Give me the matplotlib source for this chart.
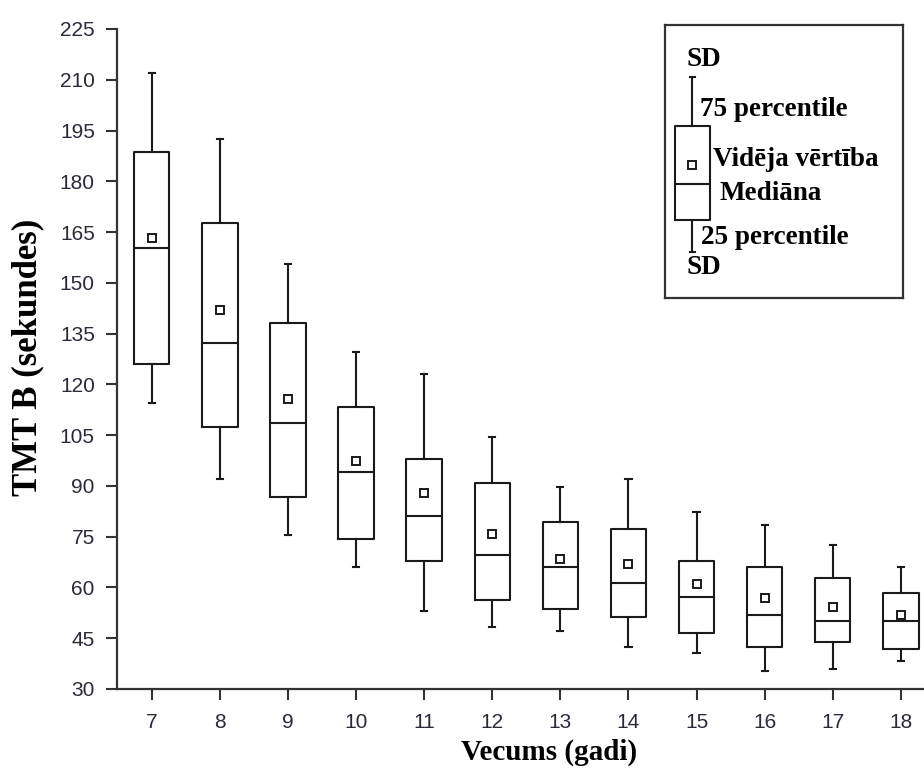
import numpy as np
import matplotlib.pyplot as plt

# age groups (years)
ages = [7, 8, 9, 10, 11, 12, 13, 14, 15, 16, 17, 18]

# TMT B times (seconds)
sd_high = [212.1, 192.6, 155.5, 129.5, 123.0, 104.5, 89.7, 92.1, 82.2, 78.5, 72.5, 66.0]
q75 = [188.6, 167.8, 138.2, 113.4, 98.1, 91.0, 79.4, 77.4, 67.8, 66.0, 62.7, 58.3]
mean = [163.2, 142.0, 115.6, 97.5, 87.8, 75.9, 68.3, 67.0, 61.1, 56.8, 54.1, 52.0]
median = [160.2, 132.3, 108.6, 94.0, 81.0, 69.7, 66.0, 61.3, 57.3, 52.0, 50.0, 50.2]
q25 = [125.9, 107.3, 86.7, 74.4, 67.8, 56.2, 53.6, 51.4, 46.6, 42.4, 43.8, 41.9]
sd_low = [114.6, 92.1, 75.5, 66.0, 53.1, 48.3, 47.1, 42.4, 40.7, 35.3, 35.9, 38.3]

yticks = list(range(30, 226, 15))

# key box (legend panel, in pixel units of the panel)
key_stats = dict(whishi=51.7, q3=101, mean=140, med=159, q1=195, whislo=227.3)
key_labels = ["SD", "75 percentile", "Vidēja vērtība", "Mediāna", "25 percentile", "SD"]
key_label_pos = [(22, 35), (35, 84), (48, 135), (55, 168), (36, 213), (22, 243)]

serif = ['Liberation Serif', 'DejaVu Serif']
sans = ['Liberation Sans', 'DejaVu Sans']

fig = plt.figure(figsize=(9.24, 7.82), dpi=100)
ax = fig.add_axes([117 / 924, 1 - 689 / 782, 1 - 117 / 924, (689 - 29) / 782])

stats = []
for i in range(len(ages)):
    stats.append(dict(whislo=sd_low[i], q1=q25[i], med=median[i], q3=q75[i],
                      whishi=sd_high[i], mean=mean[i], fliers=[]))

lw = 1.5
box_props = dict(color='#1a1a1a', linewidth=lw)
mean_props = dict(marker='s', markersize=6, markerfacecolor='white',
                  markeredgecolor='#1a1a1a', markeredgewidth=1.4)
ax.bxp(stats, positions=ages, widths=0.52, showmeans=True, showfliers=False,
       boxprops=box_props, whiskerprops=box_props,
       capprops=dict(color='#1a1a1a', linewidth=lw), capwidths=0.09,
       medianprops=dict(color='#1a1a1a', linewidth=lw), meanprops=mean_props)

ax.set_xlim(6.49, 18.34)
ax.set_ylim(30, 225)
ax.set_xticks(ages)
ax.set_xticklabels([str(a) for a in ages], family=sans, fontsize=15, color='#2a2a3a')
ax.set_yticks(yticks)
ax.set_yticklabels([str(t) for t in yticks], family=sans, fontsize=15, color='#2a2a3a')
ax.tick_params(axis='both', direction='out', length=8, width=1.5, color='#333333')
ax.tick_params(axis='y', pad=8)
ax.tick_params(axis='x', pad=9)
for side in ['top', 'right']:
    ax.spines[side].set_visible(False)
for side in ['left', 'bottom']:
    ax.spines[side].set_linewidth(1.6)
    ax.spines[side].set_color('#333333')

fig.text(549 / 924, 1 - 752 / 782, "Vecums (gadi)", family=serif, fontweight='bold',
         fontsize=21, ha='center', va='center')
fig.text(28 / 924, 1 - 357 / 782, "TMT B (sekundes)", family=serif, fontweight='bold',
         fontsize=25, ha='center', va='center', rotation=90)

# key panel
kax = fig.add_axes([665 / 924, 1 - 298 / 782, (903 - 665) / 924, (298 - 25) / 782])
for s in kax.spines.values():
    s.set_linewidth(1.6)
    s.set_color('#333333')
key = dict(key_stats, fliers=[])
kax.bxp([key], positions=[27.3], widths=34.7, showmeans=True, showfliers=False,
        boxprops=box_props, whiskerprops=box_props,
        capprops=dict(color='#1a1a1a', linewidth=lw), capwidths=5,
        medianprops=dict(color='#1a1a1a', linewidth=lw), meanprops=mean_props,
        manage_ticks=False)
kax.set_xlim(0, 238)
kax.set_ylim(273, 0)
kax.set_xticks([])
kax.set_yticks([])
for txt, (x, y) in zip(key_labels, key_label_pos):
    kax.text(x, y, txt, family=serif, fontweight='bold', fontsize=19.5,
             ha='left', va='center')

fig.savefig('out.png', dpi=100)
